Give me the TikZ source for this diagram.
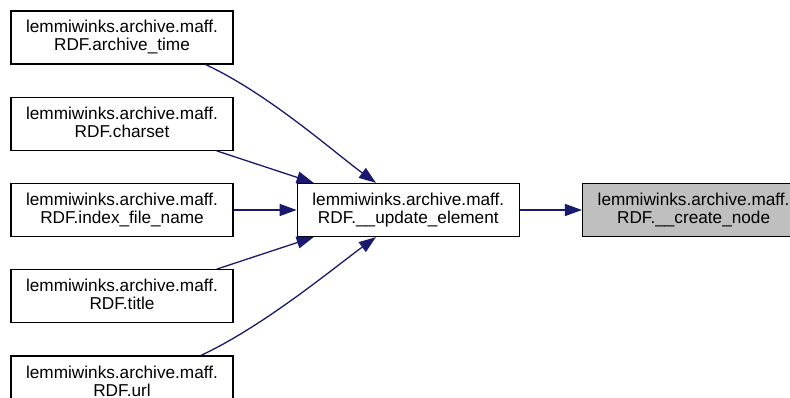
\documentclass[tikz,border=0pt]{standalone}
\usepackage{fontspec}
\setmainfont{Liberation Sans}
\usepackage{tikz}
\usepackage{xcolor}
\usetikzlibrary{arrows.meta,positioning}
\definecolor{edgeblue}{HTML}{191970}
\definecolor{hlgray}{HTML}{BFBFBF}

\begin{document}
\begin{tikzpicture}[
  x=1pt, y=1pt,
  node distance=32pt and 63pt,
  funcbox/.style={draw, line width=1.3pt, align=center, minimum width=222pt, minimum height=53pt, inner sep=2pt, fill=white, font=\fontsize{17.2}{18}\selectfont, execute at end node={\rule[-3.5pt]{0pt}{0pt}}},
  callarrow/.style={-{Triangle[length=17pt,width=12pt]}, line width=1.3pt, draw=edgeblue}
]
\useasboundingbox (0,0) rectangle (790,-398);
\clip (0,0) rectangle (790,-398);
\node[funcbox] (idx) at (122,-210) {lemmiwinks.archive.maff.\\RDF.index\_file\_name};
\node[funcbox, above=of idx] (chs) {lemmiwinks.archive.maff.\\RDF.charset};
\node[funcbox, above=of chs] (tim) {lemmiwinks.archive.maff.\\RDF.archive\_time};
\node[funcbox, below=of idx] (ttl) {lemmiwinks.archive.maff.\\RDF.title};
\node[funcbox, below=of ttl] (url) {lemmiwinks.archive.maff.\\RDF.url};
\node[funcbox, right=of idx] (upd) {lemmiwinks.archive.maff.\\RDF.\_\_update\_element};
\node[funcbox, right=62pt of upd, fill=hlgray] (crt) {lemmiwinks.archive.maff.\\RDF.\_\_create\_node};
\draw[callarrow] (tim.-18) .. controls +(-25:70) and +(144:50) .. (upd.140);
\draw[callarrow] (chs.-16) -- (upd.164);
\draw[callarrow] (idx) -- (upd);
\draw[callarrow] (ttl.16) -- (upd.-164);
\draw[callarrow] (url.19) .. controls +(25:70) and +(-144:50) .. (upd.-140);
\draw[callarrow] (upd) -- (crt);
\end{tikzpicture}
\end{document}
